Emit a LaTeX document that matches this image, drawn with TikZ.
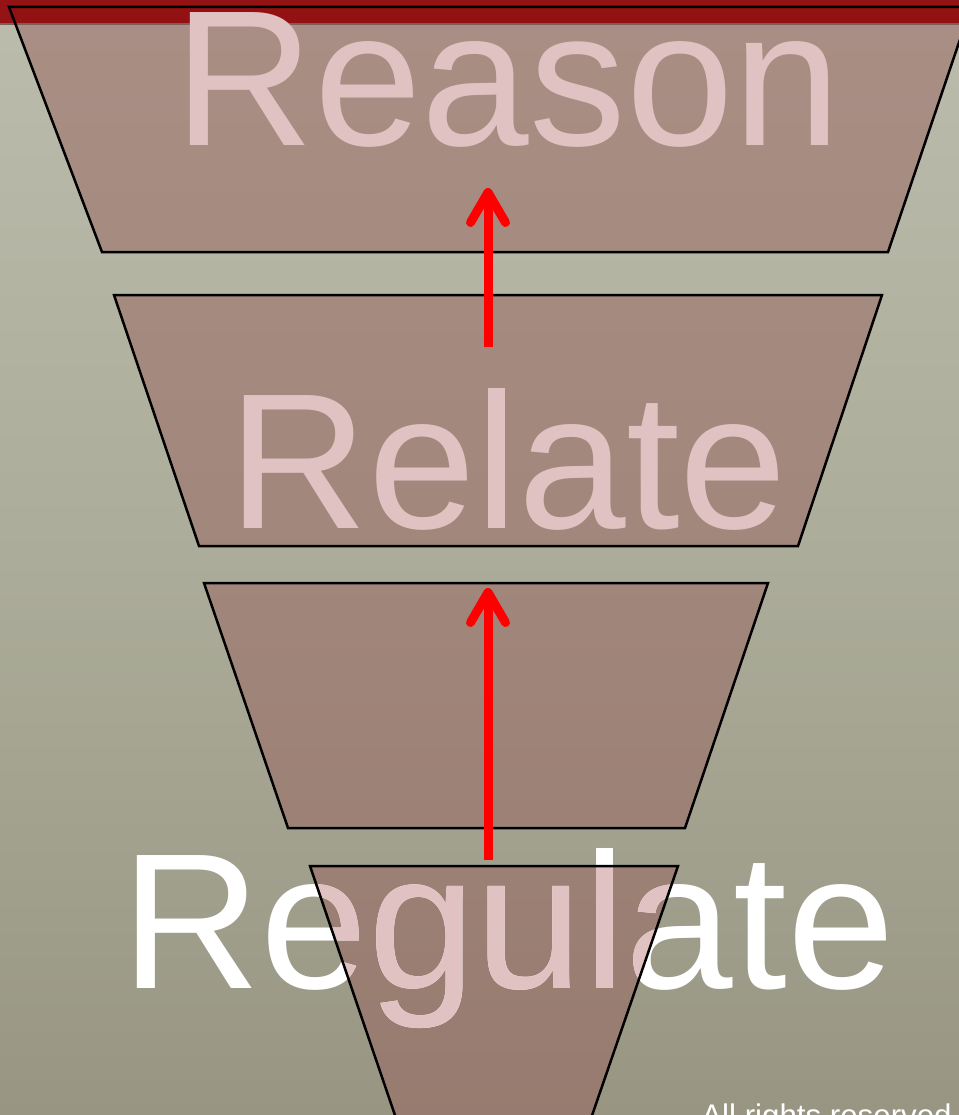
\documentclass[tikz,border=0pt]{standalone}
\usepackage{fontspec}
\setmainfont{Liberation Sans}
\usetikzlibrary{arrows.meta}

\definecolor{bgtop}{RGB}{187,188,172}
\definecolor{bgmid}{RGB}{172,172,154}
\definecolor{bgbot}{RGB}{152,150,131}
\definecolor{barred}{RGB}{146,8,10}
\definecolor{bargray}{RGB}{122,96,92}
\definecolor{layerfill}{RGB}{152,98,94}
\definecolor{rosy}{RGB}{225,194,194}
\definecolor{uparrow}{RGB}{255,0,0}

\tikzset{
  layer/.style={fill=layerfill, fill opacity=0.5},
  layeredge/.style={draw=black, line width=0.05cm, line join=miter},
  bigword/.style={anchor=base, inner sep=0pt, font=\fontsize{110}{110}\selectfont},
  climb/.style={draw=uparrow, line width=0.18cm, -{Straight Barb[round, length=0.6cm, width=0.7cm]}},
}

\begin{document}
\begin{tikzpicture}[x=0.02cm, y=-0.02cm]
        \useasboundingbox (0,0) rectangle (959,1115);
        \clip (0,0) rectangle (959,1115);

        % --- BACKGROUND ---
        \shade[top color=bgtop, bottom color=bgbot, middle color=bgmid] (0,0) rectangle (959,1115);

        % --- LAYERS ---
        \fill[layer] (9,7) -- (971,7) -- (888,252) -- (102,252) -- cycle;
        \fill[layer] (114,295) -- (882,295) -- (798,546) -- (199,546) -- cycle;
        \fill[layer] (204,583) -- (768,583) -- (685,828) -- (288,828) -- cycle;
        \fill[layer] (310,866) -- (678,866) -- (587,1130) -- (400,1130) -- cycle;

        % title bar
        \fill[barred, opacity=0.93] (0,0) rectangle (959,23);
        \fill[bargray] (0,23) rectangle (959,25);

        % --- WORDS ---
        \node (reason) at (508,145) [bigword, text=rosy] {Reason};
        \node (relate) at (508,528) [bigword, text=rosy] {Relate};
        \node (regulate) at (508,988) [bigword, text=white] {Regulate};
        \begin{scope}
            \clip (310,866) -- (678,866) -- (587,1130) -- (400,1130) -- cycle;
            \node (regulatetint) at (508,988) [bigword, text=rosy] {Regulate};
        \end{scope}

        \draw[layeredge] (9,7) -- (971,7) -- (888,252) -- (102,252) -- cycle;
        \draw[layeredge] (114,295) -- (882,295) -- (798,546) -- (199,546) -- cycle;
        \draw[layeredge] (204,583) -- (768,583) -- (685,828) -- (288,828) -- cycle;
        \draw[layeredge] (310,866) -- (678,866) -- (587,1130) -- (400,1130) -- cycle;

        % --- ARROWS ---
        \coordinate (lowfoot) at (488,860);
        \coordinate (lowtip) at (488,588);
        \coordinate (highfoot) at (488,347);
        \coordinate (hightip) at (488,188);
        \draw[climb] (lowfoot) -- (lowtip);
        \draw[climb] (highfoot) -- (hightip);

        \node (rights) at (701,1126) [anchor=base west, inner sep=0pt, text=white, font=\fontsize{17.8}{18}\selectfont] {All rights reserved};
    \end{tikzpicture}
\end{document}
